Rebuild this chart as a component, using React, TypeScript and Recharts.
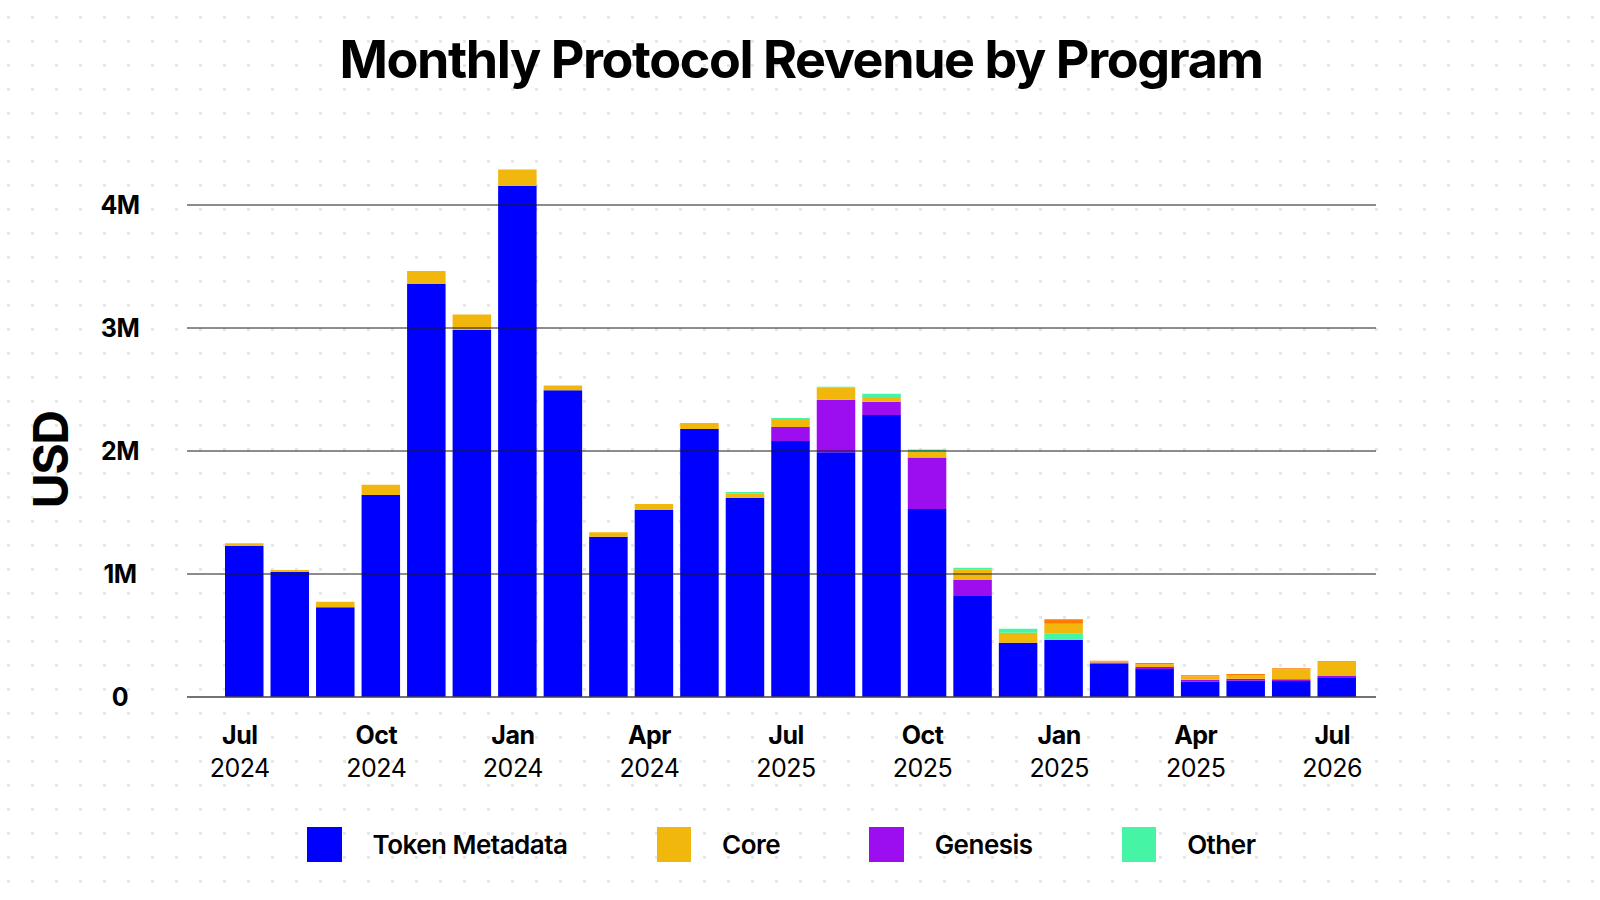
import { BarChart, Bar, XAxis, YAxis, ReferenceLine } from 'recharts';

// bar categories, Jul 2024 .. Jul 2026
const months = [
  'Jul 24', 'Aug 24', 'Sep 24', 'Oct 24', 'Nov 24', 'Dec 24',
  'Jan 25', 'Feb 25', 'Mar 25', 'Apr 25', 'May 25', 'Jun 25',
  'Jul 25', 'Aug 25', 'Sep 25', 'Oct 25', 'Nov 25', 'Dec 25',
  'Jan 26', 'Feb 26', 'Mar 26', 'Apr 26', 'May 26', 'Jun 26', 'Jul 26',
];

// tick labels as printed on the chart (one every 3 months)
const tickMonths = ['Jul', 'Oct', 'Jan', 'Apr', 'Jul', 'Oct', 'Jan', 'Apr', 'Jul'];
const tickYears = ['2024', '2024', '2024', '2024', '2025', '2025', '2025', '2025', '2026'];

const yTicks = [0, 1, 2, 3, 4];

// revenue in millions of USD
const tokenMetadata = [1.23, 1.018, 0.729, 1.642, 3.358, 2.985, 4.156, 2.493, 1.303, 1.52, 2.179, 1.62, 2.081, 1.989, 2.293, 1.528, 0.821, 0.441, 0.466, 0.272, 0.228, 0.125, 0.133, 0.13, 0.154];
const genesis = [0, 0, 0, 0, 0, 0, 0, 0, 0, 0, 0, 0, 0.114, 0.428, 0.108, 0.42, 0.13, 0, 0, 0.008, 0.016, 0.016, 0.016, 0.014, 0.016];
const bubblegum = [0, 0, 0, 0, 0, 0, 0, 0, 0, 0, 0, 0, 0, 0, 0, 0, 0, 0, 0.049, 0, 0, 0, 0, 0, 0];
const core = [0.02, 0.014, 0.045, 0.084, 0.106, 0.124, 0.132, 0.04, 0.036, 0.049, 0.049, 0.036, 0.065, 0.098, 0.038, 0.049, 0.084, 0.081, 0.081, 0.008, 0.022, 0.027, 0.029, 0.081, 0.114];
const other = [0, 0, 0, 0, 0, 0, 0, 0, 0, 0, 0, 0.011, 0.008, 0.008, 0.027, 0.016, 0.016, 0.033, 0, 0, 0, 0, 0, 0, 0];
const hydra = [0, 0, 0, 0, 0, 0, 0, 0, 0, 0, 0, 0, 0, 0, 0, 0, 0, 0, 0.036, 0.006, 0.011, 0.008, 0.008, 0.008, 0.006];

const BLUE = '#0000FF';
const YELLOW = '#F2B70D';
const PURPLE = '#9C0DF0';
const GREEN = '#45F5A5';
const ORANGE = '#FF7A00';

const legendItems = [
  { name: 'Token Metadata', color: BLUE },
  { name: 'Core', color: YELLOW },
  { name: 'Genesis', color: PURPLE },
  { name: 'Other', color: GREEN },
];

const data = months.map((m, i) => ({
  month: m,
  tokenMetadata: tokenMetadata[i],
  genesis: genesis[i],
  bubblegum: bubblegum[i],
  core: core[i],
  other: other[i],
  hydra: hydra[i],
}));

const FONT = 'Inter, "Noto Sans", sans-serif';

const XTick = (props: any) => {
  const { x, y, payload } = props;
  const idx = payload.index;
  if (idx % 3 !== 0) return null;
  const k = idx / 3;
  return (
    <g>
      <text x={x - 4} y={y + 45} textAnchor="middle" fontFamily={FONT} fontSize={25} fontWeight={700} fill="#000" letterSpacing={-0.5}>
        {tickMonths[k]}
      </text>
      <text x={x - 4} y={y + 78} textAnchor="middle" fontFamily={FONT} fontSize={25} fontWeight={400} fill="#000" letterSpacing={-0.5}>
        {tickYears[k]}
      </text>
    </g>
  );
};

const YTick = (props: any) => {
  const { x, y, payload } = props;
  const v = payload.value;
  return (
    <text x={x} y={y} dy={9} textAnchor="middle" fontFamily={FONT} fontSize={25} fontWeight={700} fill="#000" letterSpacing={-0.5}>
      {v === 0 ? '0' : `${v}M`}
    </text>
  );
};

export default function App() {
  return (
    <div style={{ position: 'absolute', left: 0, top: 0, width: 1600, height: 900, background: '#fff', overflow: 'hidden' }}>
      {/* dotted backdrop */}
      <svg width={1600} height={900} style={{ position: 'absolute', left: 0, top: 0 }}>
        <defs>
          <pattern id="dots" x={0} y={0} width={24} height={24} patternUnits="userSpaceOnUse">
            <rect x={7} y={16} width={3} height={3} fill="#e6e6e6" />
          </pattern>
        </defs>
        <rect width={1600} height={900} fill="url(#dots)" />
      </svg>

      <div style={{ position: 'absolute', left: 0, top: 0 }}>
        <BarChart
          width={1600}
          height={900}
          data={data}
          margin={{ top: 143.5, right: 224, bottom: 113, left: 0 }}
          barSize={38.5}
        >
          {yTicks.filter((v) => v > 0).map((v) => (
            <ReferenceLine key={v} y={v} stroke="#1a1a1a" strokeWidth={1} ifOverflow="extendDomain" />
          ))}
          <XAxis
            dataKey="month"
            height={90}
            interval={0}
            padding={{ left: 34, right: 17 }}
            axisLine={{ stroke: '#444', strokeWidth: 1.5 }}
            tickLine={false}
            tickSize={0}
            tick={<XTick />}
          />
          <YAxis
            width={187}
            domain={[0, 4.5]}
            ticks={yTicks}
            axisLine={false}
            tickLine={false}
            tickSize={0}
            tickMargin={67}
            tick={<YTick />}
          />
          <Bar dataKey="tokenMetadata" stackId="a" fill={BLUE} isAnimationActive={false} />
          <Bar dataKey="genesis" stackId="a" fill={PURPLE} isAnimationActive={false} />
          <Bar dataKey="bubblegum" stackId="a" fill={GREEN} isAnimationActive={false} />
          <Bar dataKey="core" stackId="a" fill={YELLOW} isAnimationActive={false} />
          <Bar dataKey="other" stackId="a" fill={GREEN} isAnimationActive={false} />
          <Bar dataKey="hydra" stackId="a" fill={ORANGE} isAnimationActive={false} />
        </BarChart>
      </div>

      {/* title and axis title */}
      <svg width={1600} height={900} style={{ position: 'absolute', left: 0, top: 0, pointerEvents: 'none' }}>
        <text x={801} y={78} textAnchor="middle" fontFamily={FONT} fontSize={52} fontWeight={700} fill="#000" letterSpacing={-1.4}>
          Monthly Protocol Revenue by Program
        </text>
        <text x={68} y={460} transform="rotate(-90 68 460)" textAnchor="middle" fontFamily={FONT} fontSize={48} fontWeight={700} fill="#000" letterSpacing={-1.5}>
          USD
        </text>
      </svg>

      {/* legend */}
      <div style={{ position: 'absolute', left: 307, top: 827, display: 'flex', alignItems: 'center', fontFamily: FONT }}>
        {legendItems.map((it) => (
          <div key={it.name} style={{ display: 'flex', alignItems: 'center', marginRight: 89 }}>
            <div style={{ width: 34.5, height: 35, background: it.color }} />
            <span style={{ marginLeft: 31, fontSize: 26, fontWeight: 600, letterSpacing: -0.5, color: '#000' }}>{it.name}</span>
          </div>
        ))}
      </div>
    </div>
  );
}
